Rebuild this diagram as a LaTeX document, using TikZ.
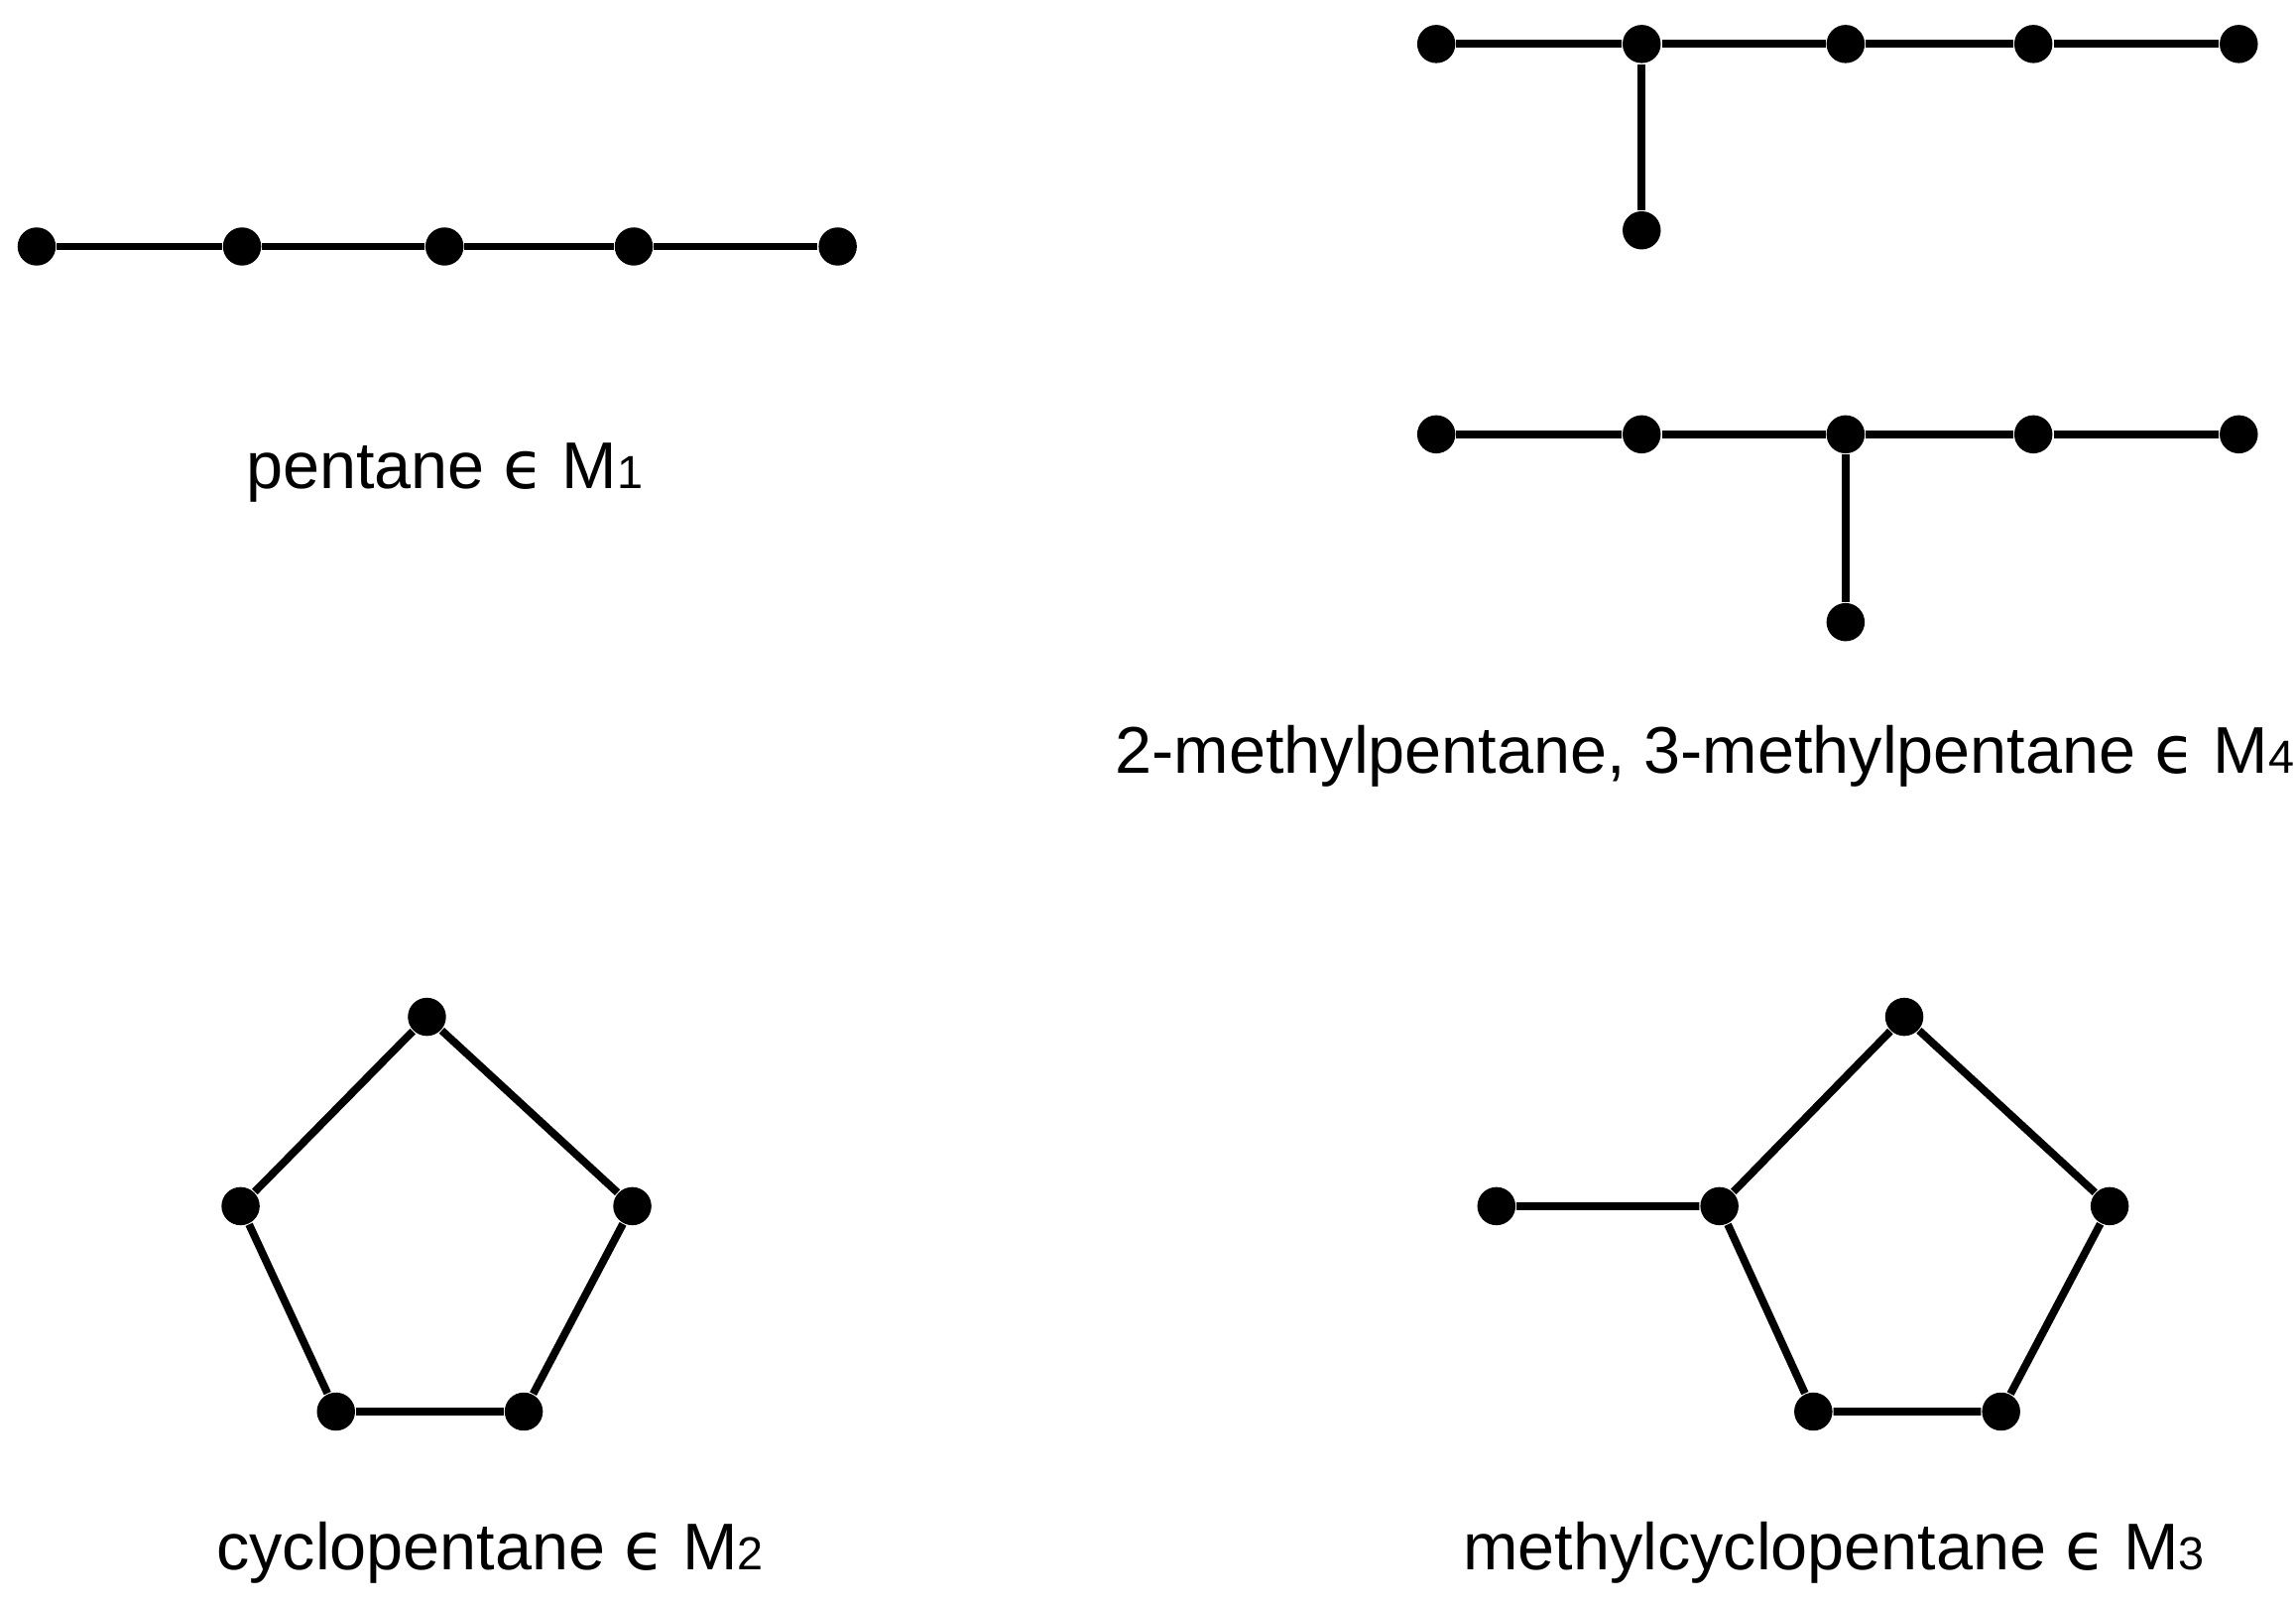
\documentclass[tikz,border=0pt]{standalone}
\usepackage{fontspec}
\setmainfont{Liberation Sans}
\newfontfamily\epsfont{DejaVu Sans}
\begin{document}
\begin{tikzpicture}[x=0.01cm,y=-0.01cm,
  atom/.style={circle,fill=black,inner sep=0pt,minimum size=0.26cm},
  bond/.style={line width=1.5pt},
  lbl/.style={font=\fontsize{12.8}{15}\selectfont,inner sep=0pt}]
\useasboundingbox (0,0) rectangle (1565,1095);
\newcommand{\sub}[1]{{\fontsize{9}{10}\selectfont #1}}
\newcommand{\myeps}{{\epsfont ϵ}}
% pentane
\foreach \x [count=\i] in {25,165,303,432,571} \node[atom] (p\i) at (\x,168) {};
\draw[bond] (p1)--(p2)--(p3)--(p4)--(p5);
\node[lbl] (lp) at (303,322) {pentane \myeps{} M\sub{1}};
% 2-methylpentane
\foreach \x [count=\i] in {979,1119,1258,1386,1526} \node[atom] (a\i) at (\x,30) {};
\node[atom] (a6) at (1119,157) {};
\draw[bond] (a1)--(a2)--(a3)--(a4)--(a5) (a2)--(a6);
% 3-methylpentane
\foreach \x [count=\i] in {979,1119,1258,1386,1526} \node[atom] (b\i) at (\x,296) {};
\node[atom] (b6) at (1258,424) {};
\draw[bond] (b1)--(b2)--(b3)--(b4)--(b5) (b3)--(b6);
\node[lbl] (lm) at (1162,515) {2-methylpentane, 3-methylpentane \myeps{} M\sub{4}};
% cyclopentane
\node[atom] (c1) at (291,693) {};
\node[atom] (c2) at (431,822) {};
\node[atom] (c3) at (357,962) {};
\node[atom] (c4) at (229,962) {};
\node[atom] (c5) at (164,822) {};
\draw[bond] (c1)--(c2)--(c3)--(c4)--(c5)--(c1);
\node[lbl] (lc) at (334,1058) {cyclopentane \myeps{} M\sub{2}};
% methylcyclopentane
\node[atom] (d1) at (1298,693) {};
\node[atom] (d2) at (1438,822) {};
\node[atom] (d3) at (1364,962) {};
\node[atom] (d4) at (1236,962) {};
\node[atom] (d5) at (1172,822) {};
\node[atom] (d6) at (1020,822) {};
\draw[bond] (d1)--(d2)--(d3)--(d4)--(d5)--(d1) (d5)--(d6);
\node[lbl] (ld) at (1250,1058) {methylcyclopentane \myeps{} M\sub{3}};
\end{tikzpicture}
\end{document}
